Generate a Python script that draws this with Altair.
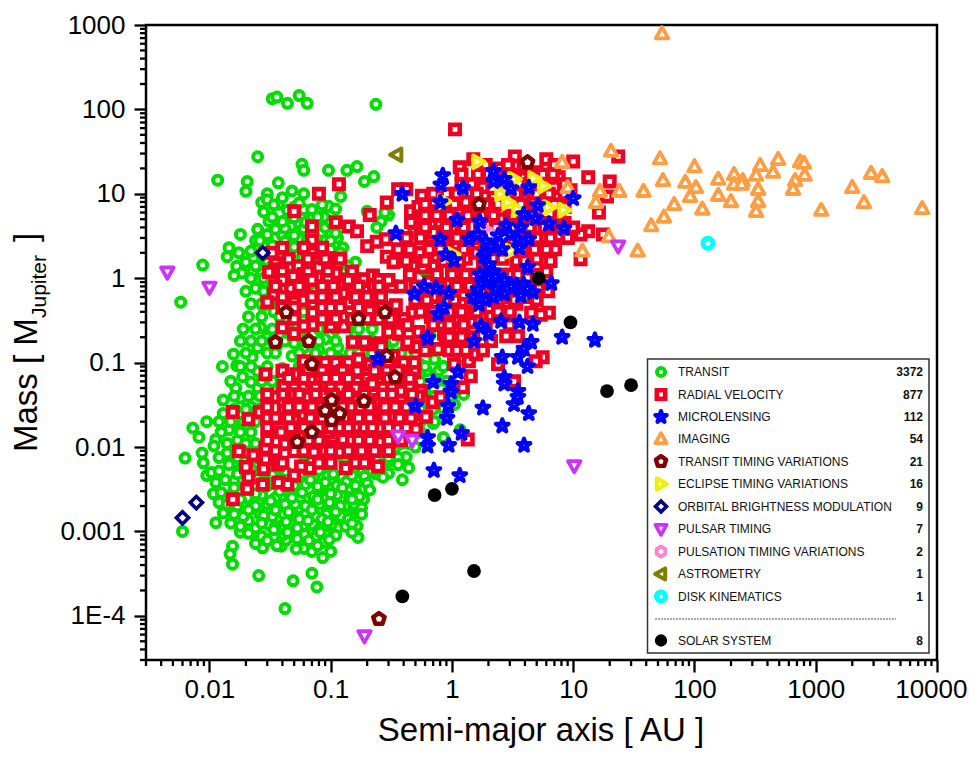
import altair as alt
import pandas as pd

TRANSIT = [
(0.033,134),(0.036,140),(0.044,118),(0.055,146),(0.064,118),(0.236,115),(0.025,27.5),(0.058,22.4),(0.06,19),(0.096,19),
(0.136,19),(0.165,21),(0.19,14),(0.227,16),(0.0117,14.5),(0.0205,14),(0.02,10.7),(0.037,13.5),(0.048,10.8),(0.06,10),
(0.03,10),(0.027,7.9),(0.028,6.1),(0.037,7.5),(0.121,9.3),(0.096,7.1),(0.071,5.4),(0.088,5.3),(0.031,4.7),(0.025,3.8),
(0.018,3.3),(0.047,4.1),(0.039,4.6),(0.056,2.9),(0.114,3),(0.126,2.3),(0.12,2.0),(0.16,1.55),(0.138,1.39),(0.0145,2.3),
(0.014,1.8),(0.0175,2.0),(0.02,1.55),(0.0168,1.39),(0.0185,1.15),(0.016,1.08),(0.0228,1.2),(0.024,0.76),(0.0088,1.43),(0.0058,0.52),
(0.0275,0.47),(0.0265,0.26),(0.3,5.6),(0.26,4.7),(0.2,6.2),(0.03,8.5),(0.04,9),(0.05,7),(0.06,6.5),(0.045,5.5),
(0.055,4.5),(0.035,3.8),(0.03,3),(0.04,3.2),(0.05,3.3),(0.065,3.5),(0.075,4),(0.085,3.5),(0.09,2.8),(0.07,2.6),
(0.06,2.2),(0.045,2.4),(0.035,2.2),(0.028,2.4),(0.024,2.8),(0.022,2.1),(0.025,1.4),(0.03,1.6),(0.036,1.7),(0.042,1.5),
(0.05,1.7),(0.058,1.4),(0.075,1.8),(0.1,2.2),(0.11,1.6),(0.125,1.2),(0.09,1.2),(0.07,1.1),(0.05,1.05),(0.03,1.05),
(0.026,0.95),(0.033,0.8),(0.04,0.75),(0.05,0.7),(0.075,0.65),(0.1,0.6),(0.03,0.55),(0.034,0.4),(0.045,0.45),(0.06,0.4),
(0.08,0.38),(0.11,0.4),(0.14,0.5),(0.2,0.6),(0.0158,0.126),(0.0225,0.116),(0.0128,0.09),(0.0168,0.092),(0.0188,0.068),(0.022,0.059),
(0.025,0.079),(0.013,0.036),(0.013,0.025),(0.0095,0.02),(0.0073,0.0168),(0.0082,0.0131),(0.0113,0.0123),(0.0109,0.0103),(0.0063,0.0074),(0.0087,0.0085),
(0.0089,0.0065),(0.0095,0.0046),(0.0104,0.005),(0.0113,0.0038),(0.0108,0.0028),(0.012,0.0022),(0.013,0.00165),(0.0113,0.00127),(0.006,0.001),(0.018,0.00098),
(0.023,0.00095),(0.028,0.00134),(0.021,0.00134),(0.0165,0.00142),(0.0155,0.00067),(0.0148,0.00054),(0.0155,0.00041),(0.0275,0.00064),(0.034,0.00087),(0.039,0.00067),
(0.043,0.00079),(0.057,0.00071),(0.06,0.00063),(0.069,0.00093),(0.086,0.00074),(0.086,0.00049),(0.114,0.0011),(0.168,0.00085),(0.165,0.00116),(0.102,0.00134),
(0.12,0.00172),(0.165,0.0019),(0.187,0.0024),(0.162,0.0029),(0.0255,0.0003),(0.049,0.00026),(0.07,0.00032),(0.077,0.00022),(0.042,0.000122),(0.39,0.0041),
(0.44,0.0057),(0.42,0.0076),(0.236,0.0048),(0.3,0.0067),(0.168,0.004),
(0.02,0.0034),(0.031,0.0036),(0.041,0.0033),(0.062,0.0036),(0.083,0.0033),(0.112,0.0035),(0.142,0.0032),(0.015,0.0027),(0.0205,0.0025),(0.027,0.0027),
(0.035,0.0025),(0.046,0.0027),(0.056,0.0025),(0.072,0.0026),(0.092,0.0025),(0.113,0.0027),(0.143,0.0025),(0.172,0.0026),(0.017,0.002),(0.023,0.0019),
(0.03,0.0021),(0.04,0.0019),(0.051,0.0021),(0.066,0.0019),(0.081,0.0021),(0.102,0.0019),(0.132,0.002),(0.155,0.0021),(0.019,0.0015),(0.026,0.0016),
(0.033,0.0015),(0.041,0.0016),(0.052,0.0015),(0.062,0.0016),(0.076,0.0015),(0.092,0.0016),(0.122,0.0015),(0.148,0.0015),(0.031,0.0012),(0.039,0.00115),
(0.048,0.0012),(0.059,0.00115),(0.072,0.0012),(0.087,0.00115),(0.101,0.0012),(0.133,0.00115),(0.041,0.00092),(0.051,0.00088),(0.061,0.00092),(0.076,0.00088),
(0.092,0.00092),(0.025,0.0042),(0.035,0.0045),(0.052,0.0045),(0.073,0.0044),(0.095,0.0046),(0.125,0.0044),(0.155,0.0052),(0.19,0.0045),(0.21,0.0062),
(0.26,0.0062),(0.13,0.007),(0.1,0.0072),(0.17,0.0082),(0.22,0.0095),(0.28,0.009),(0.34,0.0098),(0.36,0.0075),(0.4,0.012),(0.32,0.014),
(0.016,0.004),(0.016,0.0065),(0.014,0.0085),(0.02,0.0085),(0.017,0.012),(0.0145,0.016),(0.02,0.018),(0.016,0.02),(0.022,0.03),(0.018,0.038),
(0.0165,0.05),(0.03,0.04),(0.025,0.05),(0.034,0.06),(0.04,0.085),(0.048,0.12),(0.03,0.13),(0.025,0.15),(0.036,0.16),(0.05,0.17),
(0.03,0.2),(0.045,0.22),(0.06,0.15),(0.08,0.14),(0.1,0.13),(0.12,0.11),(0.145,0.13),(0.115,0.15),(0.09,0.19),(0.16,0.22),
(0.2,0.13),(0.25,0.115),(0.3,0.14),(0.34,0.12),(0.42,0.1),(0.6,0.15),(1.1,0.38),(0.66,0.21),(0.72,0.11),(0.55,0.095),
(0.62,0.08),(0.78,0.08),(0.85,0.09),(1.2,0.115),(1.25,0.042),(1.05,0.032),(1.17,0.016),(0.85,0.013),(0.7,0.019),(0.9,0.023),
(0.75,0.03),(0.55,0.03),(0.62,0.042),(0.47,0.013),(0.43,0.021),(0.5,0.01),(0.31,0.02),(0.24,0.015),
(0.24,4.0),(0.28,6.0),(0.6,1.2),(0.52,0.74),(0.16,1.0),(0.18,0.7),(0.24,0.58),(0.17,0.4),(0.16,0.27),(0.22,0.28),
(.012,.0052),(.0145,.0062),(.022,.0055),(.03,.0063),(.043,.0051),(.06,.0066),(.08,.0053),(.1,.0061),(.18,.0064),(.22,.0052),(.3,.0049),(.36,.0062),
(.0135,.0041),(.017,.0048),(.028,.0039),(.033,.0047),(.045,.004),(.058,.0049),(.068,.0041),(.09,.0038),(.105,.0048),(.135,.0039),(.15,.0046),(.2,.0037),(.27,.0044),
(.0125,.0029),(.016,.0033),(.024,.0028),(.029,.0034),(.038,.003),(.05,.0035),(.058,.0029),(.078,.0034),(.1,.0028),(.125,.0033),(.16,.0035),(.21,.0031),
(.014,.0021),(.018,.0024),(.024,.002),(.032,.0023),(.042,.0021),(.048,.0025),(.062,.002),(.078,.0024),(.098,.0022),(.12,.002),(.15,.0024),(.18,.0019),
(.016,.0016),(.021,.0018),(.028,.00155),(.035,.0018),(.045,.0017),(.055,.0014),(.07,.0018),(.085,.0014),(.11,.0017),(.14,.0014),(.18,.0016),
(.015,.00125),(.018,.00115),(.024,.0011),(.027,.00125),(.035,.00115),(.043,.0013),(.053,.0011),(.065,.00135),(.08,.00105),(.095,.0013),(.11,.0009),(.15,.00125),
(.021,.00095),(.027,.00088),(.034,.00105),(.044,.00098),(.053,.00082),(.066,.00078),(.082,.00098),(.097,.0008),(.15,.00098),
(.024,.00072),(.03,.00078),(.036,.00068),(.052,.00062),(.07,.00058),(.078,.00068),(.1,.00058),
(.027,1.85),(.033,2.1),(.04,1.75),(.052,2.05),(.065,1.8),(.085,2.1),(.12,1.75),
(.026,2.8),(.033,2.45),(.042,2.75),(.05,2.35),(.064,2.85),(.08,2.45),(.1,2.8),
(.03,3.3),(.042,3.9),(.05,3.2),(.06,3.85),(.07,3.25),(.09,4.0),(.11,3.4),
(.033,5.3),(.04,4.7),(.05,5.2),(.062,4.6),(.078,5.3),(.1,4.6),
(.034,7.4),(.044,6.4),(.055,7.8),(.07,6.5),(.085,7.4),(.11,6.6),
]
# further transit planets, read row by row: (mass, [semi-major axes])
TRANSIT_ROWS = [
(0.0075,[.012,.017,.024,.13,.19,.3]),
(0.011,[.014,.02,.024,.33,.38,.44]),
(0.015,[.0125,.018,.022,.36,.45,.55]),
(0.02,[.012,.015,.019,.024,.38,.55,.72]),
(0.028,[.016,.02,.025,.55,.7,.85]),
(0.04,[.016,.021,.026,.6,.72,1.0]),
(0.06,[.015,.027,.033,.55,.75,.9]),
(0.09,[.018,.022,.03,.055,.6,.85,1.1]),
(0.13,[.02,.035,.055,.075,.17,.22,.28,.38,.5]),
(0.18,[.018,.022,.027,.033,.042,.06,.08,.11,.22,.33]),
(0.25,[.019,.024,.033,.045,.062,.08,.11,.17,.22,.33]),
(0.35,[.021,.027,.038,.052,.07,.095,.13,.21,.29]),
(0.5,[.022,.027,.038,.055,.07,.095,.13,.17,.23]),
(0.7,[.02,.028,.036,.055,.075,.1,.125,.16,.24]),
(1.0,[.022,.028,.038,.06,.08,.1,.13,.17,.22]),
(1.4,[.024,.033,.047,.068,.085,.115,.14]),
]

RADIAL = [
(0.08,10),(0.117,13),(0.05,6.2),(0.07,4.1),(0.07,2.8),(0.07,2.0),(0.11,4.6),(0.141,4.1),(0.165,3.6),(0.21,5.6),
(0.29,7.9),(0.36,11.3),(0.42,11.3),(0.565,9.5),(0.46,6.2),(0.53,7),(0.67,6.2),(0.46,4.6),(0.49,3.5),(0.67,3.1),
(0.2,2.4),(0.24,2.7),(0.285,2.9),(0.29,1.8),(0.36,2.2),(0.33,1.55),(0.545,2),(0.475,1.39),(0.575,1.35),(0.695,1.39),
(0.32,0.8),(0.38,0.8),(0.033,2),(0.035,1.5),(0.031,1.18),(0.037,1.28),(0.054,1.39),(0.049,1.05),(0.06,1.12),(0.08,1.35),
(0.097,1.72),(0.078,1.03),(0.11,1.15),(0.128,0.83),(0.155,0.9),(0.188,0.97),(0.223,1.08),(0.19,0.72),(0.126,0.66),(0.047,0.76),
(0.06,0.7),(0.034,0.65),(0.03,0.52),(0.05,0.52),(0.06,0.55),(0.141,0.51),(0.21,0.41),(0.345,0.48),(0.475,0.39),(0.071,0.39),
(0.04,0.26),(0.05,0.22),(0.071,0.28),(0.06,0.27),(0.1,0.27),(0.128,0.27),(0.3,0.235),(0.365,0.22),(0.53,0.23),(0.67,0.345),
(0.029,0.073),(0.052,0.073),(0.06,0.104),(0.114,0.077),(0.152,0.077),(0.2,0.065),(0.25,0.058),(0.42,0.081),(0.49,0.1),(0.49,0.077),
(0.152,0.175),(0.2,0.165),(0.26,0.17),(0.43,0.165),(0.5,0.155),(0.74,0.145),(0.041,0.053),(0.04,0.042),(0.034,0.039),(0.06,0.051),
(0.065,0.039),(0.091,0.053),(0.087,0.042),(0.041,0.027),(0.026,0.026),(0.021,0.0214),(0.0156,0.026),(0.05,0.0208),(0.06,0.024),(0.155,0.0208),
(0.138,0.048),(0.178,0.046),(0.228,0.042),(0.38,0.046),(0.555,0.046),(0.38,0.035),(0.695,0.034),(0.25,0.026),(0.31,0.0228),(0.61,0.0228),
(0.475,0.0247),(0.25,0.0168),(0.168,0.0173),(0.505,0.0163),(0.039,0.015),(0.126,0.0123),(0.104,0.013),(0.26,0.0115),(0.087,0.0113),(0.073,0.0087),
(0.12,0.0087),(0.155,0.0089),(0.205,0.0078),(0.245,0.0059),(0.133,0.0056),(0.067,0.0056),(0.057,0.0059),(0.05,0.0089),(0.042,0.0109),(0.05,0.0046),
(0.044,0.0036),(0.037,0.0038),(0.037,0.0062),(0.028,0.0055),(0.029,0.0097),(0.029,0.0072),(0.023,0.008),(0.0175,0.0089),(0.02,0.0058),(0.021,0.0044),
(0.0205,0.0032),(0.0275,0.0036),(0.0156,0.0024),
(0.07,0.062),(0.082,0.066),(0.1,0.06),(0.13,0.058),(0.165,0.06),(0.22,0.056),(0.05,0.034),(0.075,0.035),(0.09,0.031),(0.11,0.036),
(0.13,0.032),(0.16,0.036),(0.2,0.032),(0.25,0.036),(0.3,0.032),(0.075,0.023),(0.095,0.02),(0.12,0.024),(0.14,0.019),(0.19,0.024),
(0.22,0.019),(0.058,0.014),(0.075,0.014),(0.095,0.015),(0.19,0.013),(0.31,0.014),(0.36,0.0165),(0.13,0.1),(0.17,0.11),(0.21,0.095),
(0.27,0.1),(0.33,0.085),(0.1,0.09),(0.27,0.075),(0.36,0.065),
(1.06,58),(1.5,25.6),(1.16,20.6),(1.64,17),(3.3,27.7),(6,25.6),(10,24.2),(23.5,27.7),(13.3,15.7),(7.6,15.7),
(20,14),(19,9.3),(16.3,6),(13.3,3.6),(11.5,3.3),(17.6,3.3),(9,3.05),(11.5,1.68),(7.1,2.2),(5.7,2.1),
(1.3,8),(1.5,6),(1.2,5),(0.9,10),(1,4),(0.8,4.5),(0.7,3.5),(1.4,3),(1.1,2.5),(0.9,2.2),
(0.75,1.8),(1,1.5),(1.3,1.7),(1.6,2),(2,3),(2.5,5),(3,7),(2.2,9),(1.8,12),(2.6,13),
(3.3,16),(4,11),(4.7,8),(3.7,5),(5,5),(6,8),(6.5,4.5),(7.5,3.2),(8.5,4.5),(5.5,3),
(4.3,2.6),(3.2,2.2),(2.6,1.7),(2,1.3),(1.5,1.1),(1.2,0.95),(0.9,0.85),(0.65,0.9),(0.55,0.7),(0.7,0.6),
(0.9,0.55),(1.2,0.5),(1.5,0.65),(1.9,0.7),(2.5,0.9),(3,1.1),(4,1.3),(5,1.7),(6,1.2),(3.7,0.8),
(2.9,0.6),(0.6,0.45),(0.8,0.35),(1.05,0.3),(1.3,0.4),(1.7,0.45),(2.1,0.35),(2.7,0.4),(3.4,0.5),(4.3,0.6),
(5.2,0.75),(6.2,0.7),(7.5,9),(8.5,7),(5,18),(4,20),(2.5,20),(2,17),(7,12),(9.5,11),
(0.86,0.22),(0.77,0.145),(0.52,0.155),(0.43,0.175),(0.365,0.23),(0.3,0.23),(0.19,0.175),(0.26,0.155),(0.33,0.12),(0.42,0.069),
(0.46,0.05),(0.53,0.04),(0.81,0.039),(0.26,0.027),(1.04,0.096),(1.38,0.104),(1.58,0.126),(1.43,0.069),(1.23,0.051),(1.35,0.0123),
(2.4,0.096),(5.6,0.116),(4.9,0.104),(3.25,0.06),(2.8,0.206),(3.5,0.206),(2.1,0.18),(6.3,0.39),(5.4,0.37),(4.5,0.39),
(1.12,0.33),(1.43,0.3),(1.14,0.41),(0.89,0.206),
]
RADIAL_ROWS = [
(0.1,[.075,.09,.11,.14,.24,.3,.4]),
(0.08,[.04,.065,.085,.125,.165,.23,.29,.36]),
(0.065,[.045,.06,.09,.11,.14,.3,.45]),
(0.05,[.05,.075,.1,.12,.16,.27,.32,.45]),
(0.042,[.03,.05,.055,.075,.105,.14,.19,.27,.32,.47]),
(0.03,[.03,.045,.055,.07,.085,.105,.125,.15,.175,.21,.28,.34,.42]),
(0.022,[.03,.035,.045,.068,.085,.105,.13,.17,.21,.28,.37,.46]),
(0.017,[.03,.047,.06,.08,.1,.12,.14,.19,.22,.3,.42]),
(0.012,[.03,.05,.066,.08,.15,.17,.21,.3,.38]),
(0.009,[.035,.06,.09,.1,.14,.18,.23,.3]),
(0.0065,[.04,.08,.1,.16,.19]),
(2.3,[.04,.06,.085]),
(1.7,[.045,.065,.09,.12]),
(1.2,[.04,.065,.095,.15]),
(0.95,[.04,.07,.095,.14,.25,.3]),
(0.8,[.035,.055,.085,.105,.17,.25]),
(0.6,[.04,.07,.085,.11,.16,.2,.26]),
(0.45,[.04,.05,.085,.1,.12,.17,.27]),
(0.33,[.05,.085,.11,.15,.2,.25,.31,.4]),
(22,[1.9,2.9,3.9,7]),
(17,[1.2,2.3,3,4.5,5.6,6.8]),
(13,[1.2,1.45,3.6,5.3,8.5]),
(10,[.7,1.1,1.6,2.7,3.4,5,6.3,8.5]),
(7.5,[.6,.85,1.05,1.9,2.4,3.7,5.5,7]),
(5.5,[.6,.75,.95,1.35,1.75,2.2,3.2,4.4,7.7]),
(4,[.55,.6,.9,1.25,1.7,2.3,3.1,4.4,5.8,8,10]),
(3,[.42,.55,.85,1.1,1.7,2.7,3.7,5,6.5,9]),
(2.2,[.45,.65,.8,1.25,1.9,2.4,3.8,4.8,6]),
(1.6,[.42,.6,.85,1.15,1.8,3.4,4,6.5]),
(1.1,[.45,.75,1,1.3,1.8,2.6,3.5,5]),
(0.8,[.5,.8,1.1,1.4,2.1,2.9,4.4]),
(0.55,[.5,.62,1.05,1.6,2.4,3.3,5]),
(0.4,[.55,.7,.95,1.2,1.6,2.4,3]),
(0.28,[.43,.7,.95,1.25,1.9,3]),
(0.2,[.62,.95,1.2,1.5]),
(0.14,[.6,.95,1.1,1.3,1.8]),
]

MICROLENSING = [
(0.84,16.5),(0.81,12.8),(1.23,11.7),(0.39,9.9),(0.8,7.9),(2.2,18.5),(2.2,14),(2.7,14.9),(3.07,11.5),(4.3,11.9),
(10,8.8),(5.1,7.3),(3.9,5.7),(4.9,5.1),(6.3,4.4),(8.4,3.9),(2.8,4.2),(3.7,4),(1.1,4.9),(1.7,4.7),
(1.64,3.3),(1.38,2.9),(0.8,2.9),(0.345,3.4),(1.9,2.7),(3.5,2.9),(4.3,2.9),(3.6,2.3),(0.89,1.9),(1.04,1.63),
(1.84,1.82),(2.0,1.46),(2.2,1.2),(4.2,1.35),(6.6,0.87),(1.9,0.9),(1.64,0.74),(3.4,0.83),(4.65,0.68),(2.3,0.74),
(2.7,0.65),(0.94,0.66),(0.74,0.76),(0.59,0.8),(0.49,0.65),(0.86,0.45),(0.77,0.375),(1.67,0.49),(2.54,0.31),(3.6,0.3),
(4.65,0.285),(1.73,0.27),(2.0,0.22),(1.52,0.18),(0.63,0.195),(0.245,0.11),(2.6,0.116),(3.5,0.116),(4.5,0.175),(3.93,0.145),
(4.2,0.09),(2.7,0.067),(2.7,0.056),(1.12,0.077),(0.7,0.059),(0.98,0.056),(0.98,0.045),(0.5,0.0305),(0.93,0.0305),(0.91,0.022),
(1.8,0.029),(3.5,0.046),(3.5,0.039),(3.25,0.032),(4.3,0.025),(2.6,0.0178),(3.93,0.0105),(1.2,0.0146),(0.63,0.013),(0.63,0.0103),
(0.94,0.0105),(0.71,0.0053),(1.16,0.0046),(8.1,0.2),(15.1,0.185),(1.9,2),(2.1,2.4),(2.4,3.2),(3,3.3),(2.6,2.2),
(2.0,1.0),(2.3,1.05),(1.7,1.1),(2.7,0.95),(3.1,0.8),(3.7,0.62),(3.9,0.85),(4.2,0.75),(1.5,0.6),(1.9,0.55),(2.2,0.6),
]

IMAGING = [
(54,790),(20.5,32),(52,26),(100,21),(55,14.4),(84,13.7),(103,11.9),(92,9.3),(157,9.6),(157,14.9),
(212,17),(250,14.4),(212,13),(245,13),(322,16.6),(348,21.7),(490,25.6),(445,18),(743,24),(800,23),
(810,16.6),(676,14.4),(650,11.3),(335,11.3),(335,8.1),(322,6.2),(200,8.1),(116,6.6),(68,7.5),(56,5.3),
(44,4.2),(34,2.1),(24,10.7),(38,10.7),(16.6,10.7),(15.4,7.9),(19.7,3.1),(2000,11.9),(2500,7.9),(2860,17.5),
(3530,16),(1110,6.4),(7550,6.7),(8.1,23.6),(9,11.9),(11.9,2.1),(2.6,10.4),
]

TTV = [
(0.043,0.395),(0.17,0.33),(0.28,0.395),(0.035,0.175),(0.066,0.18),(0.29,0.12),(0.07,0.096),(0.34,0.067),(0.102,0.036),(0.09,0.027),
(0.119,0.025),(0.102,0.0208),(0.188,0.035),(0.07,0.015),(0.053,0.0115),(0.25,0.000092),(4.2,23.6),(1.67,7.5),(2.45,2.46),
]
ECLIPSE = [
(1.64,24),(3.25,14.9),(4.75,15.2),(5.7,12.3),(2.9,7.9),(3.5,6.5),(6.3,6.9),(8.4,6.4),(0.86,8.1),(1.02,1.92),(3.07,2.1),(2.54,9.9),
]
BRIGHTNESS = [(0.0275,2.0),(0.0078,0.0022),(0.006,0.00145)]
PULSAR = [(0.0045,1.18),(0.01,0.78),(0.19,0.000058),(0.36,0.0135),(0.47,0.012),(23.5,2.4),(10.2,0.006)]
PULSATION = [(1.95,3.5),(2.1,3.3)]
ASTROMETRY = [(0.35,29)]
DISK = [(129,2.6)]
SOLAR = [(5.2,1),(9.5,0.3),(19,0.046),(30,0.054),(0.72,0.0027),(1,0.0032),(1.52,0.00034),(0.39,0.00017)]

LEGEND_NAMES = ["TRANSIT","RADIAL VELOCITY","MICROLENSING","IMAGING","TRANSIT TIMING VARIATIONS","ECLIPSE TIMING VARIATIONS",
                "ORBITAL BRIGHTNESS MODULATION","PULSAR TIMING","PULSATION TIMING VARIATIONS","ASTROMETRY","DISK KINEMATICS","SOLAR SYSTEM"]
LEGEND_COUNTS = [3372,877,112,54,21,16,9,7,2,1,1,8]

X_TICKS = [0.01,0.1,1,10,100,1000,10000]
Y_TICKS = [0.0001,0.001,0.01,0.1,1,10,100,1000]

W, H = 791, 635
OX, OY = 146, 25

def expand(rows):
    return [(a, m) for m, aa in rows for a in aa]

CIRCLE = "circle"
SQUARE = "M-1,-1L1,-1L1,1L-1,1Z"
STAR = "M0,-1L0.2245,-0.309L0.951,-0.309L0.363,0.118L0.588,0.809L0,0.382L-0.588,0.809L-0.363,0.118L-0.951,-0.309L-0.2245,-0.309Z"
TRI_UP = "M0,-1.05L1,0.75L-1,0.75Z"
PENT = "M0,-1L0.951,-0.309L0.588,0.809L-0.588,0.809L-0.951,-0.309Z"
TRI_R = "M1.05,0L-0.75,1L-0.75,-1Z"
DIAM = "M0,-1L1,0L0,1L-1,0Z"
TRI_D = "M0,1.05L1,-0.75L-1,-0.75Z"
HEX = "M0,-1L0.87,-0.5L0.87,0.5L0,1L-0.87,0.5L-0.87,-0.5Z"
TRI_L = "M-1.05,0L0.75,-1L0.75,1Z"

STYLES = [
    (TRANSIT + expand(TRANSIT_ROWS), CIRCLE, "#00DC00", 81, 4, "white", "round"),
    (RADIAL + expand(RADIAL_ROWS), SQUARE, "#EE0022", 88, 4.6, "white", "miter"),
    (IMAGING, TRI_UP, "#FF9E45", 156, 3.8, "white", "round"),
    (TTV, PENT, "#800000", 144, 4.4, "white", "round"),
    (ECLIPSE, TRI_R, "#EEEE11", 156, 4.2, "white", "round"),
    (BRIGHTNESS, DIAM, "#000080", 150, 3.6, "white", "miter"),
    (PULSAR, TRI_D, "#CC33FF", 156, 3.8, "white", "round"),
    (PULSATION, HEX, "#FF88CC", 120, 4, "white", "round"),
    (ASTROMETRY, TRI_L, "#808000", 156, 4, "white", "round"),
    (DISK, CIRCLE, "#00FFFF", 100, 5, "white", "round"),
    (MICROLENSING, STAR, "#0000FF", 176, 4.2, "white", "round"),
    (SOLAR, CIRCLE, "black", 190, 0, "black", "round"),
]
LEGEND_ORDER = [0, 1, 10, 2, 3, 4, 5, 6, 7, 8, 9, 11]

xscale = alt.Scale(type="log", domain=[0.003, 10000], nice=False)
yscale = alt.Scale(type="log", domain=[3e-5, 1000], nice=False)
LABEL = "datum.value<0.0005?'1E-4':''+datum.value"
xaxis = alt.Axis(values=X_TICKS, title=None, grid=False, domain=False, tickSize=12, tickWidth=2.3, tickColor="black",
                 labelFont="Liberation Sans", labelFontSize=26, labelColor="black", labelPadding=4, labelExpr=LABEL,
                 labelOverlap=False, labelFlush=1, labelFlushOffset=30)
yaxis = alt.Axis(values=Y_TICKS, title=None, grid=False, domain=False, tickSize=12, tickWidth=2.3, tickColor="black",
                 labelFont="Liberation Sans", labelFontSize=26, labelColor="black", labelPadding=9, labelExpr=LABEL,
                 labelOverlap=False)
X = alt.X("a:Q", scale=xscale, axis=xaxis)
Y = alt.Y("m:Q", scale=yscale, axis=yaxis)

layers = []
for pairs, shape, color, size, sw, fill, join in STYLES:
    df = pd.DataFrame(pairs, columns=["a", "m"])
    layers.append(alt.Chart(df).mark_point(shape=shape, size=size, filled=True, fill=fill, stroke=color,
                                           strokeWidth=sw, opacity=1, strokeJoin=join, clip=False).encode(x=X, y=Y))

xminor = [d * k for d in [0.001, 0.01, 0.1, 1, 10, 100, 1000] for k in range(2, 10) if 0.003 <= d * k <= 10000]
yminor = [d * k for d in [1e-5, 1e-4, 1e-3, 1e-2, 1e-1, 1, 10, 100] for k in range(2, 10) if 3e-5 <= d * k <= 1000]
layers.append(alt.Chart(pd.DataFrame({"a": xminor})).mark_rule(color="black", strokeWidth=2.3, clip=False).encode(
    x=X, y=alt.value(H), y2=alt.value(H + 6)))
layers.append(alt.Chart(pd.DataFrame({"m": yminor})).mark_rule(color="black", strokeWidth=2.3, clip=False).encode(
    y=Y, x=alt.value(-6), x2=alt.value(0)))

def px(v): return alt.value(v - OX)
def py(v): return alt.value(v - OY)
one = pd.DataFrame({"k": [0]})
layers.append(alt.Chart(one).mark_rect(fill="white", stroke="#333333", strokeWidth=1.5).encode(
    x=px(647.5), x2=px(929), y=py(359), y2=py(653)))

rows_y = [372, 394.5, 417, 439, 461.5, 484, 506.5, 529, 551.5, 574, 596.5, 640.5]
for i, (name, count) in enumerate(zip(LEGEND_NAMES, LEGEND_COUNTS)):
    pairs, shape, color, size, sw, fill, join = STYLES[LEGEND_ORDER[i]]
    rd = pd.DataFrame({"name": [name], "count": [str(count)]})
    base = alt.Chart(rd)
    layers.append(base.mark_point(shape=shape, size=size * 0.8, filled=True, fill=fill, stroke=color, strokeWidth=sw,
                                  opacity=1, strokeJoin=join).encode(x=px(661), y=py(rows_y[i])))
    layers.append(base.mark_text(align="left", baseline="middle", font="Liberation Sans", fontSize=12, color="#111111").encode(
        x=px(678), y=py(rows_y[i]), text="name:N"))
    layers.append(base.mark_text(align="right", baseline="middle", font="Liberation Sans", fontSize=12, fontWeight="bold",
                                 color="#111111").encode(x=px(923), y=py(rows_y[i]), text="count:N"))
layers.append(alt.Chart(one).mark_rule(color="#555555", strokeWidth=1, strokeDash=[2, 1]).encode(
    x=px(655), x2=px(896), y=py(619)))

def title_text(text, x, y, size, angle=0, align="left"):
    return alt.Chart(pd.DataFrame({"t": [text]})).mark_text(
        align=align, baseline="alphabetic", font="Liberation Sans", fontSize=size, angle=angle, color="black").encode(
        x=px(x), y=py(y), text="t:N")

layers.append(title_text("Semi-major axis [ AU ]", 541, 741, 33, align="center"))
layers.append(title_text("Mass [ M", 37, 452, 33, angle=270))
layers.append(title_text("Jupiter", 46, 318, 21, angle=270))
layers.append(title_text("]", 37, 242, 33, angle=270))

chart = alt.layer(*layers).properties(
    width=W, height=H, autosize=alt.AutoSizeParams(type="none"),
    padding={"left": OX - 8, "top": OY - 8, "right": 30, "bottom": 90},
    background="white",
).configure_view(stroke="black", strokeWidth=2.5)

chart.save("out.html", embed_options={"renderer": "svg", "actions": False})
